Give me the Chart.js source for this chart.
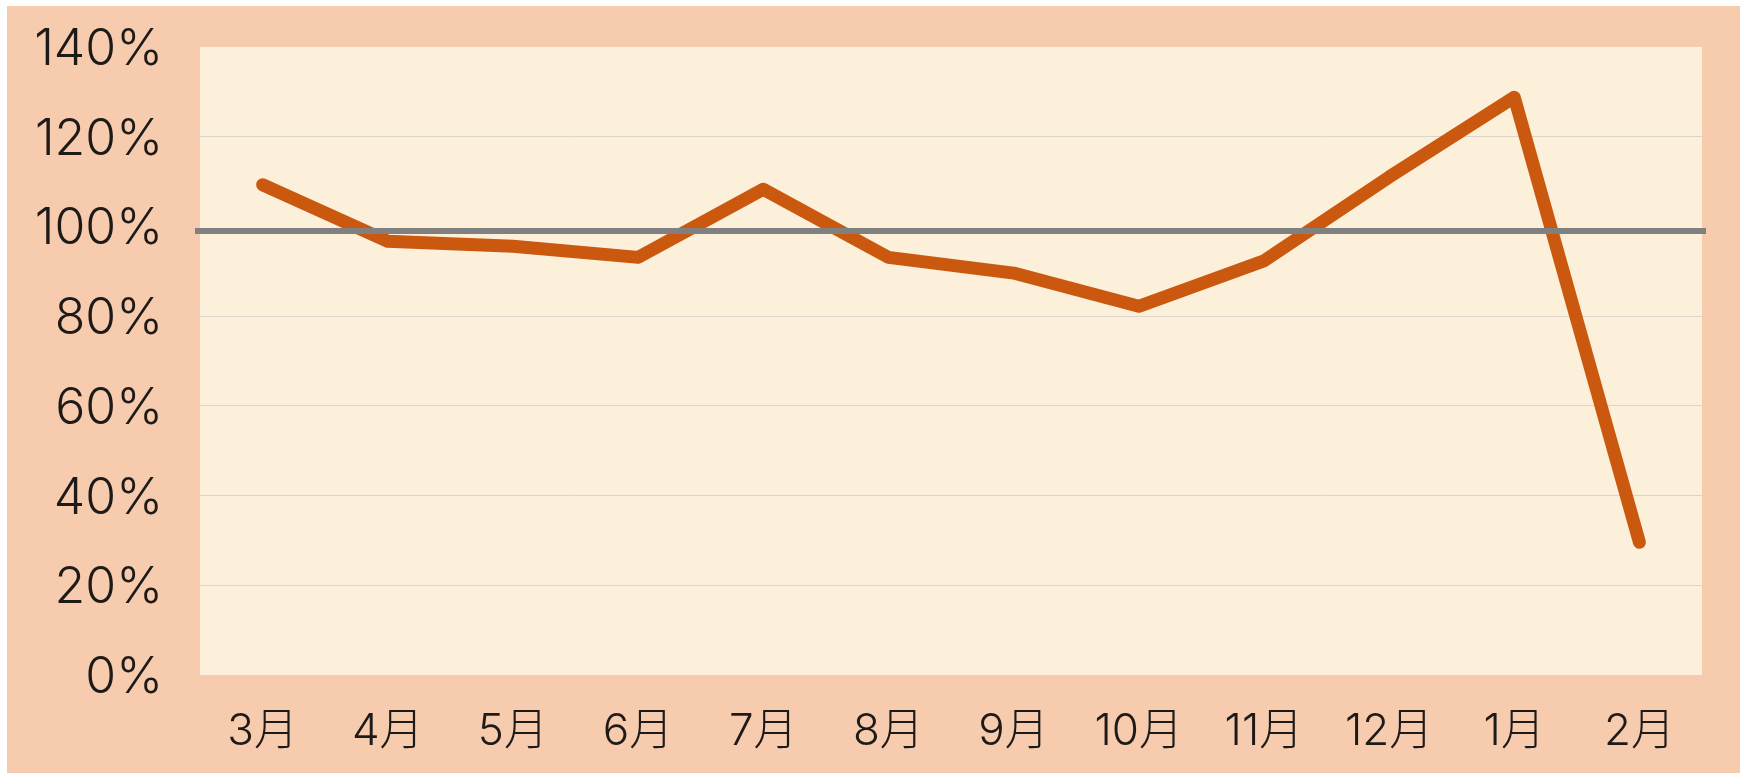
<!DOCTYPE html>
<html>
<head>
<meta charset="utf-8">
<script src="https://cdn.jsdelivr.net/npm/chart.js@4"></script>
<style>
  html, body { margin: 0; padding: 0; background: #ffffff; }
  #wrap {
    position: absolute; left: 7px; top: 6px;
    width: 1733px; height: 767px;
    background: #F6CBAE;
  }
</style>
</head>
<body>
<div id="wrap"><canvas id="myChart"></canvas></div>
<script>
// 月ごとの値 (%)
const bulan = ['3月', '4月', '5月', '6月', '7月', '8月', '9月', '10月', '11月', '12月', '1月', '2月'];
const nilai = [109.3, 96.7, 95.6, 93.1, 108.3, 93.1, 89.6, 82.2, 92.3, 111, 128.8, 29.6];
const garisDasar = 99;          // 灰色の基準線
const tickY = [0, 20, 40, 60, 80, 100, 120, 140];

const fontY = { family: 'Inter, "Noto Sans CJK JP", sans-serif', size: 50, weight: 300 };
const fontX = { family: 'Inter, "Noto Sans CJK JP", sans-serif', size: 44, weight: 300 };

// plot area background + gray reference line
const latarPlot = {
  id: 'latarPlot',
  beforeDraw(chart) {
    const { ctx, chartArea: a } = chart;
    ctx.save();
    ctx.fillStyle = '#FDF0DA';
    ctx.fillRect(a.left, a.top, a.right - a.left, a.bottom - a.top);
    ctx.restore();
  },
  afterDatasetsDraw(chart) {
    const { ctx, chartArea: a, scales } = chart;
    const y = scales.y.getPixelForValue(garisDasar);
    ctx.save();
    ctx.strokeStyle = '#808080';
    ctx.lineWidth = 6;
    ctx.beginPath();
    ctx.moveTo(a.left - 5, y);
    ctx.lineTo(a.right + 4, y);
    ctx.stroke();
    ctx.restore();
  }
};

const ctx = document.getElementById('myChart').getContext('2d');
const myChart = new Chart(ctx, {
  type: 'line',
  data: {
    labels: bulan,
    datasets: [{
      data: nilai,
      borderColor: '#CB580F',
      borderWidth: 13,
      borderCapStyle: 'round',
      borderJoinStyle: 'round',
      pointRadius: 0,
      tension: 0
    }]
  },
  options: {
    responsive: true,
    maintainAspectRatio: false,
    animation: false,
    layout: { padding: { top: 41, right: 38, left: 0, bottom: 0 } },
    plugins: { legend: { display: false }, tooltip: { enabled: false } },
    scales: {
      x: {
        offset: true,
        grid: { display: false, drawTicks: false },
        border: { display: false },
        ticks: { font: fontX, color: '#1E1A18', padding: 30, maxRotation: 0, autoSkip: false },
        afterFit(s) { s.height = 98; s.paddingLeft = 0; s.paddingRight = 0; }
      },
      y: {
        min: 0,
        max: 140,
        afterBuildTicks(s) { s.ticks = tickY.map(v => ({ value: v })); },
        grid: {
          drawTicks: false,
          lineWidth: 1,
          color: c => (c.tick && (c.tick.value === 0 || c.tick.value === 100 || c.tick.value === 140)) ? 'rgba(0,0,0,0)' : '#DCD5CA'
        },
        border: { display: false },
        ticks: {
          font: fontY,
          color: '#1E1A18',
          padding: 37,
          labelOffset: 3,
          callback: v => v + '%'
        },
        afterFit(s) { s.width = 193; s.paddingTop = 0; s.paddingBottom = 0; }
      }
    }
  },
  plugins: [latarPlot]
});
</script>
</body>
</html>
